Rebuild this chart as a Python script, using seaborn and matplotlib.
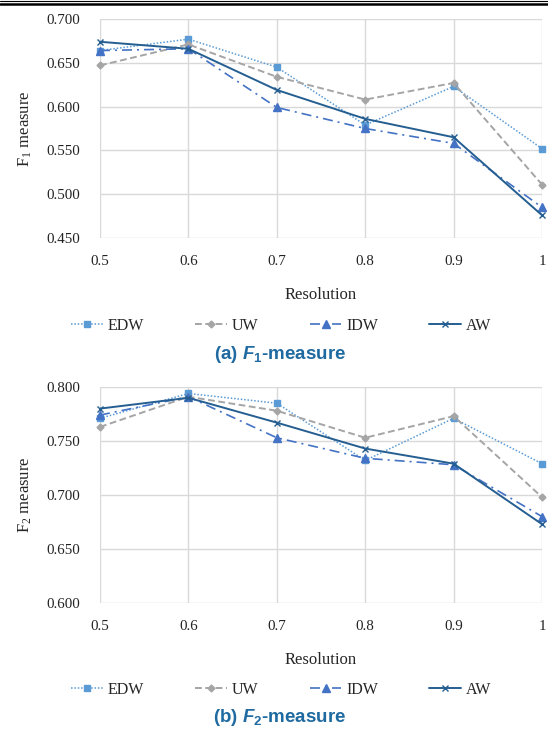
import matplotlib
matplotlib.use("Agg")
import matplotlib.pyplot as plt
from matplotlib.lines import Line2D
import seaborn as sns

resolution = [0.5, 0.6, 0.7, 0.8, 0.9, 1.0]
series = ["EDW", "UW", "IDW", "AW"]

# F1 measure
f1_edw = [0.664, 0.677, 0.645, 0.579, 0.623, 0.552]
f1_uw = [0.647, 0.671, 0.634, 0.608, 0.627, 0.511]
f1_idw = [0.664, 0.666, 0.599, 0.575, 0.558, 0.485]
f1_aw = [0.674, 0.666, 0.619, 0.586, 0.565, 0.476]

# F2 measure
f2_edw = [0.771, 0.794, 0.785, 0.732, 0.771, 0.729]
f2_uw = [0.763, 0.791, 0.778, 0.753, 0.773, 0.698]
f2_idw = [0.774, 0.791, 0.753, 0.734, 0.728, 0.680]
f2_aw = [0.780, 0.790, 0.767, 0.743, 0.729, 0.673]

sns.set_style("white")
plt.rcParams["font.family"] = ["Liberation Serif", "DejaVu Serif"]
plt.rcParams["mathtext.fontset"] = "custom"
plt.rcParams["mathtext.it"] = "Liberation Sans:italic:bold"
plt.rcParams["mathtext.rm"] = "Liberation Sans:bold"

styles = {
    "EDW": dict(color="#5B9BD5", linestyle=(0, (1, 1.2)), marker="s", markersize=4.5, lw=1.1),
    "UW": dict(color="#A5A5A5", linestyle=(0, (3.5, 1.8)), marker="D", markersize=3.5, lw=1.4),
    "IDW": dict(color="#4472C4", linestyle=(0, (6, 3, 1.2, 3)), marker="^", markersize=5.5, lw=1.2),
    "AW": dict(color="#255E91", linestyle="-", marker="x", markersize=5, lw=1.4),
}

fig = plt.figure(figsize=(5.48, 7.30), dpi=100)
ax1 = fig.add_axes([100 / 548, 1 - 238 / 730, 442 / 548, 219 / 730])
ax2 = fig.add_axes([100 / 548, 1 - 603 / 730, 442 / 548, 216 / 730])

panels = [
    (ax1, [f1_edw, f1_uw, f1_idw, f1_aw], (0.45, 0.70), "F$_\\mathregular{1}$ measure",
     "(a) $\\mathit{F_1}$-measure", 326, 355),
    (ax2, [f2_edw, f2_uw, f2_idw, f2_aw], (0.60, 0.80), "F$_\\mathregular{2}$ measure",
     "(b) $\\mathit{F_2}$-measure", 690, 718),
]

for ax, vals, ylim, ylab, cap, leg_y, cap_y in panels:
    for name, v in zip(series, vals):
        st = dict(styles[name])
        sns.lineplot(x=resolution, y=v, ax=ax, label=name, markeredgecolor=st["color"],
                     markeredgewidth=1.0, clip_on=False, zorder=3, **st)
    ax.set_xlim(0.5, 1.0)
    ax.set_ylim(*ylim)
    ax.set_xticks(resolution)
    ax.set_xticklabels(["0.5", "0.6", "0.7", "0.8", "0.9", "1"])
    yt = [round(ylim[0] + 0.05 * i, 3) for i in range(int(round((ylim[1] - ylim[0]) / 0.05)) + 1)]
    ax.set_yticks(yt)
    ax.set_yticklabels([f"{t:.3f}" for t in yt])
    ax.grid(True, color="#D9D9D9", lw=1.0)
    ax.set_axisbelow(True)
    for s in ax.spines.values():
        s.set_visible(False)
    ax.tick_params(axis="both", length=0, labelsize=10.8, colors="#222222")
    ax.tick_params(axis="y", pad=14)
    ax.tick_params(axis="x", pad=12)
    ax.set_ylabel(ylab, fontsize=12)
    ax.yaxis.set_label_coords(-0.15, 0.5)
    ax.set_xlabel("Resolution", fontsize=12)
    ax.xaxis.set_label_coords(0.5, -0.225)
    h, l = ax.get_legend_handles_labels()
    ax.get_legend().remove()
    fig.legend(h, l, loc="center", bbox_to_anchor=(0.513, 1 - leg_y / 730), ncol=4,
               frameon=False, fontsize=11.5, handlelength=2.0, handletextpad=0.3,
               columnspacing=3.2)
    fig.text(0.511, 1 - cap_y / 730, cap, ha="center", va="center", fontsize=13.5,
             fontweight="bold", family="Liberation Sans", color="#1F6AA0")

# double rule at top of page
fig.add_artist(Line2D([0, 1], [1 - 1 / 730] * 2, color="black", lw=0.8))
fig.add_artist(Line2D([0, 1], [1 - 4 / 730] * 2, color="black", lw=1.8))

fig.savefig("out.png", dpi=100)
plt.close(fig)
